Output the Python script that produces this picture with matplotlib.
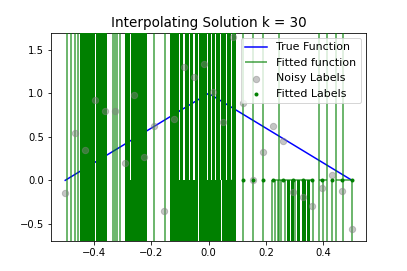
import numpy as np
import matplotlib
matplotlib.use("Agg")
from matplotlib import pyplot as plt

# training inputs and labels
x_train = [-0.5, -0.466, -0.431, -0.397, -0.362, -0.328, -0.293, -0.259, -0.224, -0.190,
           -0.155, -0.121, -0.086, -0.052, -0.017, 0.017, 0.052, 0.086, 0.121, 0.155,
           0.190, 0.224, 0.259, 0.293, 0.328, 0.362, 0.397, 0.431, 0.466, 0.5]
noisy_labels = [-0.14, 0.54, 0.35, 0.92, 0.80, 0.80, 0.20, 0.98, 0.27, 0.62,
                -0.35, 0.70, 1.30, 1.19, 1.34, 1.02, 0.67, 1.65, 0.89, 0.00,
                0.33, 0.62, 0.45, -0.13, -0.19, -0.29, -0.09, 0.06, -0.12, -0.56]
# left half of the fit explodes (off the plot), right half sits at 0
fitted_labels = [30.0, -30.0, 30.0, -30.0, 30.0, -30.0, 30.0, -30.0, 30.0, -30.0,
                 30.0, -30.0, 30.0, -30.0, 30.0, -30.0, 30.0, 0.0, 0.0, 0.0,
                 0.0, 0.0, 0.0, 0.0, 0.0, 0.0, 0.0, 0.0, 0.0, 0.0]

# true function (triangle)
true_x = [-0.5, 0.0, 0.5]
true_y = [0.0, 1.0, 0.0]

# fitted function: blows up far outside the view
big = 50.0
spike_x = [-0.493, -0.480, -0.466, -0.456, -0.335, -0.326, -0.318, -0.310,
           -0.190, -0.153, 0.120, 0.155, 0.190, 0.245, 0.384, 0.413, 0.446, 0.469]
dip_x = [0.222, 0.233, 0.241, 0.252, 0.268, 0.303, 0.364, 0.398, 0.430, 0.500]
zero_runs = [(0.221, 0.366), (0.384, 0.413), (0.446, 0.500)]
full_bands = [(-0.449, -0.397), (-0.393, -0.356), (-0.292, -0.273), (-0.269, -0.216)]
up_bands = [(-0.135, -0.103), (-0.099, -0.088), (-0.084, -0.068), (-0.064, -0.053),
            (-0.049, -0.036), (-0.032, -0.007), (-0.003, 0.008), (0.012, 0.022),
            (0.026, 0.040), (0.044, 0.060), (0.064, 0.077), (0.081, 0.094)]
down_bands = [(-0.273, -0.269), (-0.135, -0.101), (-0.099, -0.037), (-0.035, 0.044),
              (0.046, 0.094), (0.274, 0.284), (0.286, 0.297), (0.309, 0.320),
              (0.326, 0.340), (0.342, 0.355)]

fig, ax = plt.subplots(figsize=(407 / 72, 271 / 72), dpi=72)

true_line, = ax.plot(true_x, true_y, color="blue", lw=1.5, label="True Function", zorder=2)

fit_lines = ax.vlines(spike_x, -big, big, color="green", alpha=0.75, lw=1.5,
                      label="Fitted function", zorder=3)
ax.vlines(dip_x, -big, 0, color="green", alpha=0.75, lw=1.5, zorder=3)
ax.hlines([0.0] * len(zero_runs), [a for a, b in zero_runs], [b for a, b in zero_runs],
          color="green", alpha=0.75, lw=1.5, zorder=3)
for a, b in full_bands:
    ax.fill_between([a, b], -big, big, color="green", lw=0, zorder=3)
for a, b in up_bands:
    ax.fill_between([a, b], 0, big, color="green", lw=0, zorder=3)
for a, b in down_bands:
    ax.fill_between([a, b], -big, 0, color="green", lw=0, zorder=3)

noisy = ax.scatter(x_train, noisy_labels, color="grey", alpha=0.45, s=40,
                   label="Noisy Labels", zorder=4)
fitted = ax.scatter(x_train, fitted_labels, color="green", s=9,
                    label="Fitted Labels", zorder=5)

ax.set_xlim(-0.55, 0.55)
ax.set_ylim(-0.7, 1.7)
ax.set_title("Interpolating Solution k = 30", fontsize=13.5)
ax.legend(handles=[true_line, fit_lines, noisy, fitted], loc="upper right", fontsize=11)

fig.savefig("out.png", dpi=72)
